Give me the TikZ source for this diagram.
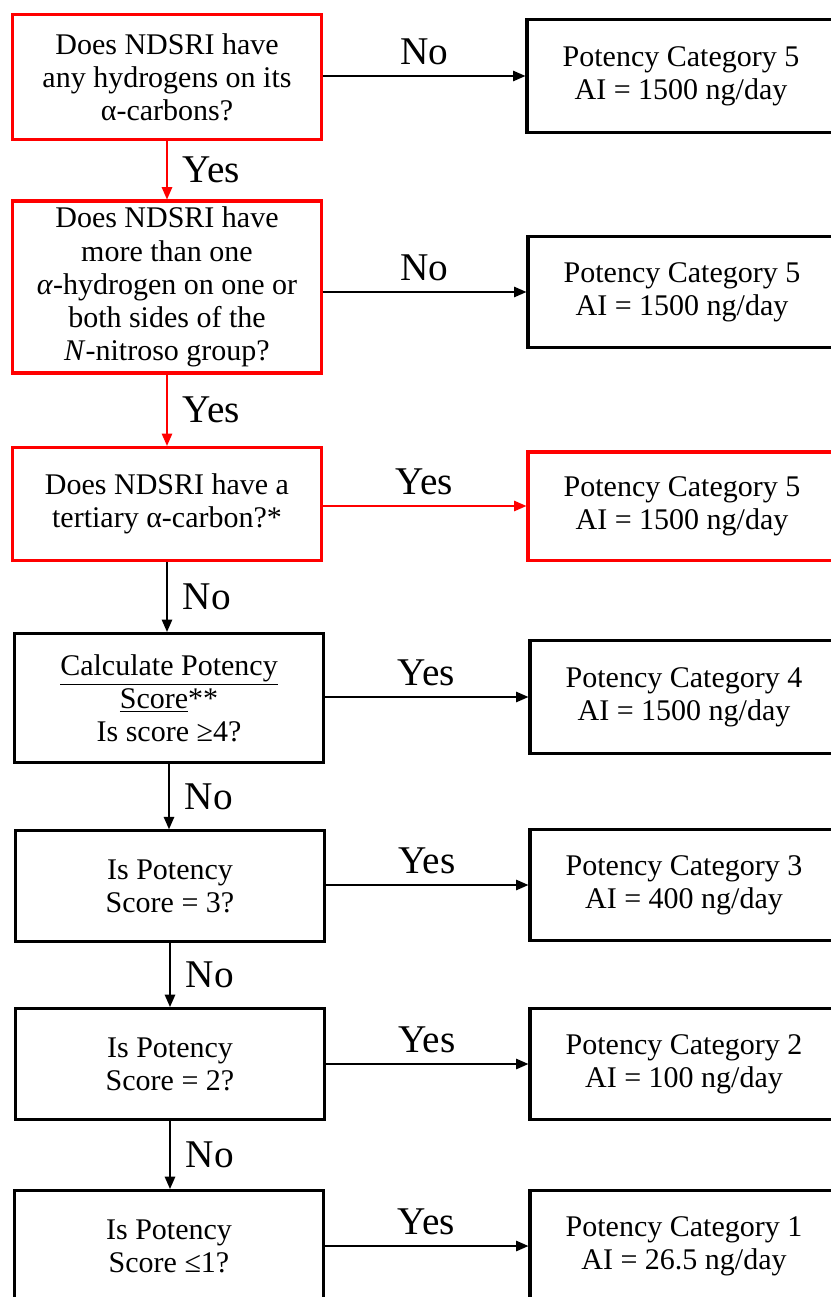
\documentclass[tikz,border=0pt]{standalone}
\usepackage{fontspec}
\setmainfont{Liberation Serif}
\usetikzlibrary{arrows.meta}

\begin{document}
\begin{tikzpicture}[x=0.42pt,y=-0.42pt,
    box/.style={draw,line width=1.3pt,align=center,minimum width=129.4pt,inner sep=0pt,
      font=\fontsize{12.6}{13.9}\selectfont},
    redbox/.style={box,draw=red},
    ans/.style={font=\fontsize{16.5}{19}\selectfont},
    link/.style={line width=0.6pt,-{Triangle[length=5.2pt,width=4.4pt]}},
    redlink/.style={link,draw=red,fill=red}]
  \useasboundingbox (0,0) rectangle (831,1297);
  \clip (0,0) rectangle (831,1297);
  \begin{scope}
    \node[redbox,minimum height=52.5pt] (q1) at (167,77)
      {Does NDSRI have\\any hydrogens on its\\α-carbons?};
    \node[redbox,minimum height=72.2pt] (q2) at (167,287)
      {Does NDSRI have\\more than one\\\textit{α}-hydrogen on one or\\both sides of the\\\textit{N}-nitroso group?};
    \node[redbox,minimum height=47.5pt] (q3) at (167,504)
      {Does NDSRI have a\\tertiary α-carbon?*};
    \node[box,minimum height=54.2pt] (q4) at (169,698)
      {\underline{Calculate Potency}\\\underline{Score}**\\Is score ≥4?};
    \node[box,minimum height=46.4pt] (q5) at (170,886) {Is Potency\\Score = 3?};
    \node[box,minimum height=46.6pt] (q6) at (170,1064) {Is Potency\\Score = 2?};
    \node[box,minimum height=46.6pt] (q7) at (169,1246) {Is Potency\\Score ≤1?};
  \end{scope}
  \begin{scope}
    \node[box,minimum height=47.5pt] (r1) at (681,76) {Potency Category 5\\AI = 1500 ng/day};
    \node[box,minimum height=46.6pt] (r2) at (682,292) {Potency Category 5\\AI = 1500 ng/day};
    \node[redbox,minimum height=45.4pt] (r3) at (682,506) {Potency Category 5\\AI = 1500 ng/day};
    \node[box,minimum height=47.5pt] (r4) at (684,697) {Potency Category 4\\AI = 1500 ng/day};
    \node[box,minimum height=46.6pt] (r5) at (684,885) {Potency Category 3\\AI = 400 ng/day};
    \node[box,minimum height=46.6pt] (r6) at (684,1064) {Potency Category 2\\AI = 100 ng/day};
    \node[box,minimum height=46.6pt] (r7) at (684,1246) {Potency Category 1\\AI = 26.5 ng/day};
  \end{scope}
  \draw[link] (q1.east |- r1.west) -- node[ans,midway,above=1pt] {No} (r1.west);
  \draw[link] (q2.east |- r2.west) -- node[ans,midway,above=1pt] {No} (r2.west);
  \draw[redlink] (q3.east |- r3.west) -- node[ans,midway,above=1pt,text=black] {Yes} (r3.west);
  \draw[link] (q4.east |- r4.west) -- node[ans,midway,above=1pt] {Yes} (r4.west);
  \draw[link] (q5.east |- r5.west) -- node[ans,midway,above=1pt] {Yes} (r5.west);
  \draw[link] (q6.east |- r6.west) -- node[ans,midway,above=1pt] {Yes} (r6.west);
  \draw[link] (q7.east |- r7.west) -- node[ans,midway,above=1pt] {Yes} (r7.west);
  \draw[redlink] (q1.south) -- node[ans,midway,right=3pt,text=black] {Yes} (q2.north);
  \draw[redlink] (q2.south) -- node[ans,midway,right=3pt,text=black] {Yes} (q3.north);
  \draw[link] (q3.south) -- node[ans,midway,right=3pt] {No} (q3.south |- q4.north);
  \draw[link] (q4.south) -- node[ans,midway,right=3pt] {No} (q4.south |- q5.north);
  \draw[link] (q5.south) -- node[ans,midway,right=3pt] {No} (q5.south |- q6.north);
  \draw[link] (q6.south) -- node[ans,midway,right=3pt] {No} (q6.south |- q7.north);
\end{tikzpicture}
\end{document}
